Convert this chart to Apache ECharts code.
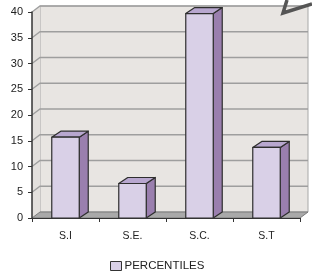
<!DOCTYPE html>
<html>
<head>
<meta charset="utf-8">
<script src="https://cdn.jsdelivr.net/npm/echarts@6/dist/echarts.min.js"></script>
<style>html,body{margin:0;padding:0;background:#fff}#c{width:312px;height:273px}</style>
</head>
<body>
<div id="c"></div>
<script>
var categories = ['S.I', 'S.E.', 'S.C.', 'S.T'];
var percentiles = [15.7, 6.7, 39.7, 13.7];
var yTicks = [0, 5, 10, 15, 20, 25, 30, 35, 40];
var seriesName = 'PERCENTILES';

var WALL_DX = 8, WALL_DY = 6;
var BAR_DX = 9, BAR_DY = 6;

var chart = echarts.init(document.getElementById('c'), null, {renderer: 'canvas'});

function backdrop(params, api) {
  var band = api.size([1, 0])[0];
  var x0 = api.coord([0, 0])[0] - band / 2;
  var x1 = api.coord([categories.length - 1, 0])[0] + band / 2;
  var y0 = api.coord([0, 0])[1];
  var yTop = api.coord([0, yTicks[yTicks.length - 1]])[1];
  var dx = WALL_DX, dy = WALL_DY;
  var children = [];
  children.push({type: 'rect', shape: {x: x0 + dx, y: yTop - dy, width: x1 - x0, height: y0 - yTop},
    style: {fill: '#e8e5e2', stroke: '#a8a8a8', lineWidth: 1}});
  children.push({type: 'polygon', shape: {points: [[x0, y0], [x0 + dx, y0 - dy], [x0 + dx, yTop - dy], [x0, yTop]]},
    style: {fill: '#e3e0dd', stroke: null}});
  yTicks.forEach(function (t) {
    if (t === 0) return;
    var y = api.coord([0, t])[1];
    children.push({type: 'polyline', shape: {points: [[x0, y], [x0 + dx, y - dy], [x1 + dx, y - dy]]},
      style: {stroke: '#9e9e9e', lineWidth: 1.3, fill: null}});
  });
  children.push({type: 'polygon', shape: {points: [[x0, y0], [x1, y0], [x1 + dx, y0 - dy], [x0 + dx, y0 - dy]]},
    style: {fill: '#a9a9a9', stroke: '#7a7a7a', lineWidth: 1}});
  return {type: 'group', children: children};
}

function bar3d(params, api) {
  var idx = api.value(0), val = api.value(1);
  var band = api.size([1, 0])[0];
  var top = api.coord([idx, val]);
  var base = api.coord([idx, 0]);
  var w = band * 0.41;
  var xl = top[0] - w / 2, xr = top[0] + w / 2;
  var yt = top[1], yb = base[1];
  var dx = BAR_DX, dy = BAR_DY;
  var st = {stroke: '#2e2e2e', lineWidth: 1.2, lineJoin: 'round'};
  return {type: 'group', children: [
    {type: 'polygon', shape: {points: [[xr, yt], [xr + dx, yt - dy], [xr + dx, yb - dy], [xr, yb]]},
      style: Object.assign({fill: '#9a7fae'}, st)},
    {type: 'polygon', shape: {points: [[xl, yt], [xl + dx, yt - dy], [xr + dx, yt - dy], [xr, yt]]},
      style: Object.assign({fill: '#b8a7cf'}, st)},
    {type: 'rect', shape: {x: xl, y: yt, width: w, height: yb - yt},
      style: Object.assign({fill: '#d9d0e7'}, st)}
  ]};
}

chart.setOption({
  animation: false,
  textStyle: {fontFamily: 'Liberation Sans, Arial, sans-serif'},
  grid: {left: 32, right: 12, top: 12, bottom: 55},
  legend: {
    data: [{name: seriesName, icon: 'rect'}],
    left: 110, top: 260, padding: 0,
    itemWidth: 11, itemHeight: 9, itemGap: 4,
    itemStyle: {color: '#d9d0e7', borderColor: '#333', borderWidth: 1},
    textStyle: {fontSize: 11.5, color: '#222', padding: [0, 0, 0, -2]}
  },
  xAxis: {
    type: 'category', data: categories,
    axisLine: {show: true, lineStyle: {color: '#333', width: 1.2}},
    axisTick: {show: true, length: 4, lineStyle: {color: '#333'}},
    axisLabel: {fontSize: 10.5, color: '#222', margin: 13},
    splitLine: {show: false}, z: 5
  },
  yAxis: {
    type: 'value', min: 0, max: 40, interval: 5,
    axisLine: {show: true, lineStyle: {color: '#333', width: 1.5}},
    axisTick: {show: true, length: 4, lineStyle: {color: '#333'}},
    axisLabel: {fontSize: 11, color: '#222', margin: 9},
    splitLine: {show: false}, z: 5
  },
  graphic: [{
    type: 'polyline', z: 100,
    shape: {points: [[287, 0], [283, 13], [312, 4]]},
    style: {stroke: '#555', lineWidth: 3.5, fill: null, lineJoin: 'miter'}
  }],
  series: [
    {type: 'custom', name: 'backdrop', renderItem: backdrop, data: [[0, 0]], z: 1, silent: true, clip: false},
    {type: 'custom', name: seriesName, renderItem: bar3d, z: 3, clip: false,
      itemStyle: {color: '#d9d0e7', borderColor: '#333', borderWidth: 1},
      encode: {x: 0, y: 1},
      data: percentiles.map(function (v, i) { return [i, v]; })}
  ]
});
</script>
</body>
</html>
